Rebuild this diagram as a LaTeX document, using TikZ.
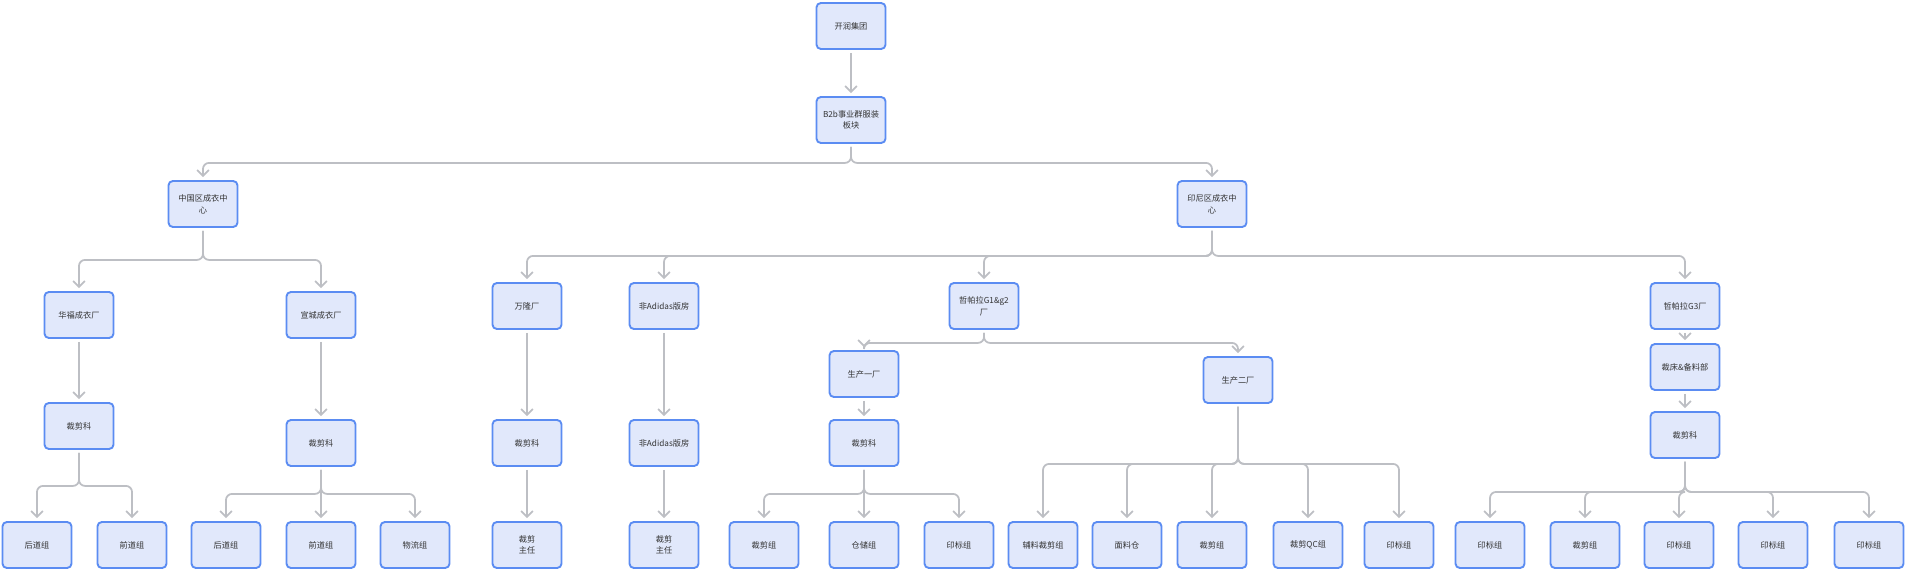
\documentclass[tikz,border=0pt]{standalone}
\usepackage{fontspec}
\setmainfont{Noto Sans CJK SC}
\usetikzlibrary{arrows.meta}
\definecolor{boxFill}{HTML}{E1E8FB}
\definecolor{boxLine}{HTML}{5B8CF2}
\definecolor{linkGray}{HTML}{BDBFC4}
\definecolor{textGray}{HTML}{333333}
\begin{document}
\begin{tikzpicture}
                [x=0.03cm, y=-0.03cm,
        box/.style={rectangle, draw=boxLine, fill=boxFill, line width=1.6pt, rounded corners=0.13cm, minimum width=2.07cm, minimum height=1.38cm, inner sep=1pt, align=center, text=textGray, font=\fontsize{7}{10}\selectfont},
        link/.style={draw=linkGray, line width=1.5pt, rounded corners=0.18cm, -{Straight Barb[length=5pt,width=10pt]}, shorten <=2.5pt, shorten >=2.5pt}]
                \useasboundingbox (0,0) rectangle (1906,569);

                \node[box] (K) at (851,26) {开润集团};
                \node[box] (B) at (851,120) {B2b事业群服装\\板块};
                \node[box] (CN) at (203,204) {中国区成衣中\\心};
                \node[box] (ID) at (1212,204) {印尼区成衣中\\心};

                % 中国区
                \node[box] (HF) at (79,315) {华福成衣厂};
                \node[box] (XC) at (321,315) {宣城成衣厂};
                \node[box] (HFc) at (79,426) {裁剪科};
                \node[box] (XCc) at (321,443) {裁剪科};
                \node[box] (HF1) at (37,545) {后道组};
                \node[box] (HF2) at (132,545) {前道组};
                \node[box] (XC1) at (226,545) {后道组};
                \node[box] (XC2) at (321,545) {前道组};
                \node[box] (XC3) at (415,545) {物流组};

                % 印尼区
                \node[box] (WL) at (527,306) {万隆厂};
                \node[box] (WLc) at (527,443) {裁剪科};
                \node[box] (WLz) at (527,545) {裁剪\\主任};
                \node[box] (FA) at (664,306) {非Adidas版房};
                \node[box] (FAc) at (664,443) {非Adidas版房};
                \node[box] (FAz) at (664,545) {裁剪\\主任};
                \node[box] (GA) at (984,306) {哲帕拉G1\&g2\\厂};
                \node[box] (P1) at (864,374) {生产一厂};
                \node[box] (P1c) at (864,443) {裁剪科};
                \node[box] (P1a) at (764,545) {裁剪组};
                \node[box] (P1b) at (864,545) {仓储组};
                \node[box] (P1d) at (959,545) {印标组};
                \node[box] (P2) at (1238,380) {生产二厂};
                \node[box] (P2a) at (1043,545) {辅料裁剪组};
                \node[box] (P2b) at (1127,545) {面料仓};
                \node[box] (P2c) at (1212,545) {裁剪组};
                \node[box] (P2d) at (1308,545) {裁剪QC组};
                \node[box] (P2e) at (1399,545) {印标组};
                \node[box] (GB) at (1685,306) {哲帕拉G3厂};
                \node[box] (GBb) at (1685,367) {裁床\&备料部};
                \node[box] (GBc) at (1685,435) {裁剪科};
                \node[box] (GB1) at (1490,545) {印标组};
                \node[box] (GB2) at (1585,545) {裁剪组};
                \node[box] (GB3) at (1679,545) {印标组};
                \node[box] (GB4) at (1773,545) {印标组};
                \node[box] (GB5) at (1869,545) {印标组};

                \draw[link] (K) -- (B);
                \foreach \c in {CN,ID} \draw[link] (B.south) -- ++(0,19) -| (\c.north);
                \foreach \c in {HF,XC} \draw[link] (CN.south) -- ++(0,32) -| (\c.north);
                \draw[link] (HF) -- (HFc);
                \draw[link] (XC) -- (XCc);
                \foreach \c in {HF1,HF2} \draw[link] (HFc.south) -- ++(0,36) -| (\c.north);
                \foreach \c in {XC1,XC2,XC3} \draw[link] (XCc.south) -- ++(0,27) -| (\c.north);

                \foreach \c in {WL,FA,GA,GB} \draw[link] (ID.south) -- ++(0,28) -| (\c.north);
                \draw[link] (WL) -- (WLc);
                \draw[link] (WLc) -- (WLz);
                \draw[link] (FA) -- (FAc);
                \draw[link] (FAc) -- (FAz);
                \foreach \c in {P1,P2} \draw[link] (GA.south) -- ++(0,13) -| (\c.north);
                \draw[link] (P1) -- (P1c);
                \foreach \c in {P1a,P1b,P1d} \draw[link] (P1c.south) -- ++(0,27) -| (\c.north);
                \foreach \c in {P2a,P2b,P2c,P2d,P2e} \draw[link] (P2.south) -- ++(0,60) -| (\c.north);
                \draw[link] (GB) -- (GBb);
                \draw[link] (GBb) -- (GBc);
                \foreach \c in {GB1,GB2,GB3,GB4,GB5} \draw[link] (GBc.south) -- ++(0,33) -| (\c.north);
            \end{tikzpicture}
\end{document}
